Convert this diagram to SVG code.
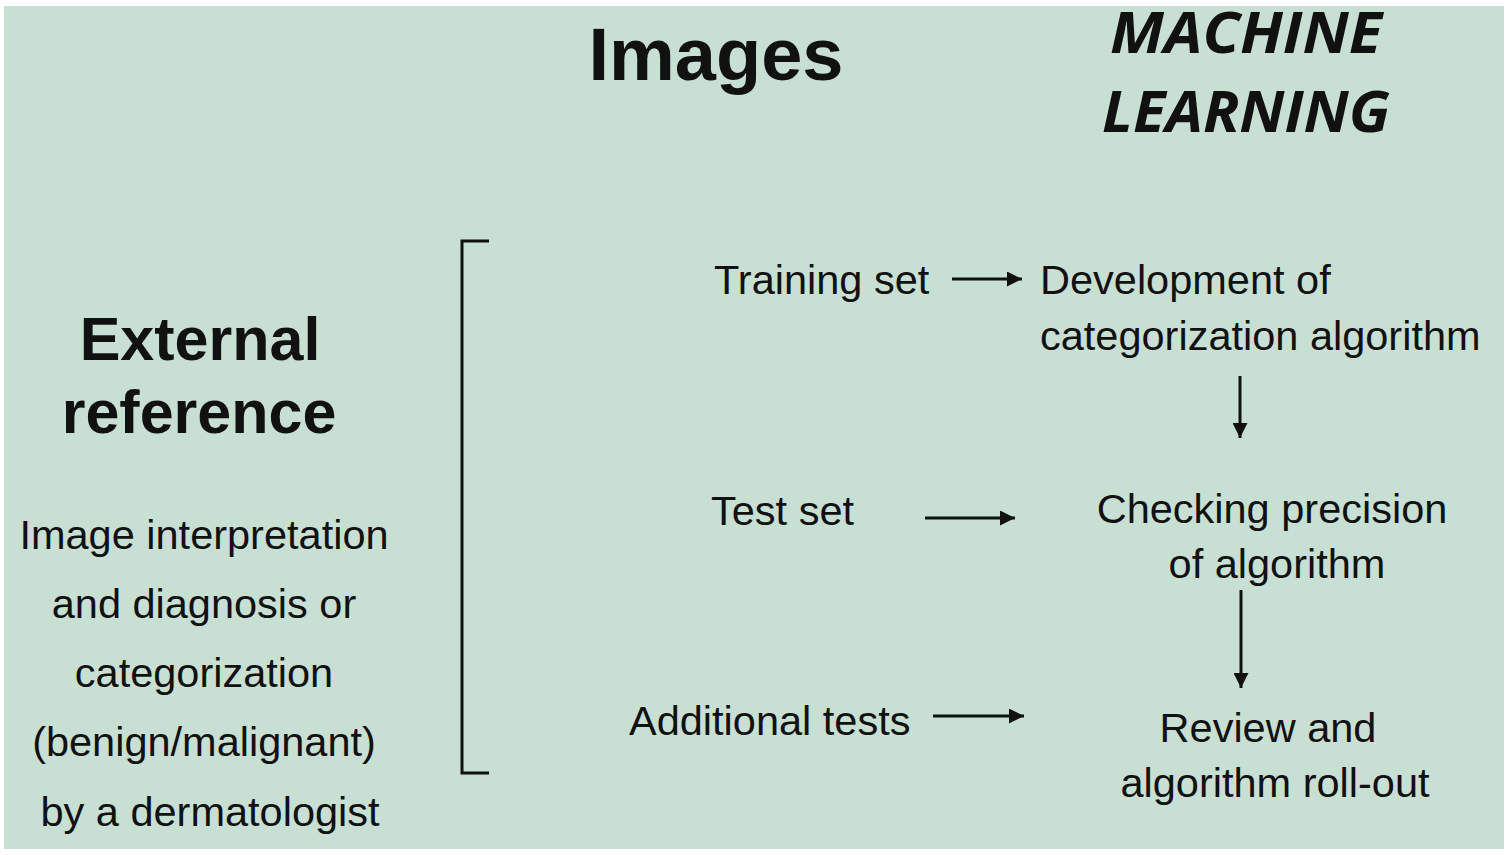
<svg xmlns="http://www.w3.org/2000/svg" width="1508" height="855" viewBox="0 0 1508 855">
<defs>
<style>
.t{font-family:"Liberation Sans",Arial,sans-serif;fill:#111;}
.r{font-size:41.5px;}
.h{font-size:61px;font-weight:bold;}
.ml{font-family:"Open Sans","Liberation Sans",sans-serif;font-weight:bold;font-style:italic;font-size:58px;fill:#111;}
.c{stroke:#111;stroke-width:3;fill:none;}
</style>
<marker id="ah" viewBox="0 0 10 10" refX="10" refY="5" markerWidth="5" markerHeight="5" markerUnits="strokeWidth" orient="auto">
<path d="M0,0 L10,5 L0,10 z" fill="#111"/>
</marker>
</defs>
<rect x="0" y="0" width="1508" height="855" fill="#ffffff"/>
<rect x="4" y="6" width="1500" height="843" fill="#c8dfd3"/>
<g id="title-images"><text class="t" x="716" y="80" text-anchor="middle" font-size="74" font-weight="bold">Images</text></g>
<g id="title-ml">
<text class="ml" x="1246" y="53" text-anchor="middle" textLength="272" lengthAdjust="spacingAndGlyphs">MACHINE</text>
<text class="ml" x="1246" y="132" text-anchor="middle" textLength="288" lengthAdjust="spacingAndGlyphs">LEARNING</text>
</g>
<g id="external-reference">
<text class="t h" x="200" y="360" text-anchor="middle">External</text>
<text class="t h" x="199" y="433" text-anchor="middle">reference</text>
</g>
<g id="interpretation">
<text class="t r" x="204" y="549" text-anchor="middle">Image interpretation</text>
<text class="t r" x="204" y="618" text-anchor="middle">and diagnosis or</text>
<text class="t r" x="204" y="687" text-anchor="middle">categorization</text>
<text class="t r" x="204" y="756" text-anchor="middle">(benign/malignant)</text>
<text class="t r" x="210" y="826" text-anchor="middle">by a dermatologist</text>
</g>
<g id="bracket"><path class="c" d="M489,241 L462,241 L462,773 L489,773"/></g>
<g id="training-set"><text class="t r" x="714" y="294">Training set</text></g>
<g id="development"><text class="t r" x="1040" y="294">Development of</text><text class="t r" x="1040" y="350">categorization algorithm</text></g>
<g id="test-set"><text class="t r" x="711" y="525">Test set</text></g>
<g id="checking"><text class="t r" x="1272" y="523" text-anchor="middle">Checking precision</text><text class="t r" x="1277" y="578" text-anchor="middle">of algorithm</text></g>
<g id="additional-tests"><text class="t r" x="629" y="735">Additional tests</text></g>
<g id="review"><text class="t r" x="1268" y="742" text-anchor="middle">Review and</text><text class="t r" x="1275" y="797" text-anchor="middle">algorithm roll-out</text></g>
<g id="connectors">
<line class="c" x1="952" y1="279" x2="1022" y2="279" marker-end="url(#ah)"/>
<line class="c" x1="1240" y1="376" x2="1240" y2="438" marker-end="url(#ah)"/>
<line class="c" x1="925" y1="518" x2="1015" y2="518" marker-end="url(#ah)"/>
<line class="c" x1="1241" y1="590" x2="1241" y2="688" marker-end="url(#ah)"/>
<line class="c" x1="933" y1="716" x2="1024" y2="716" marker-end="url(#ah)"/>
</g>
</svg>
